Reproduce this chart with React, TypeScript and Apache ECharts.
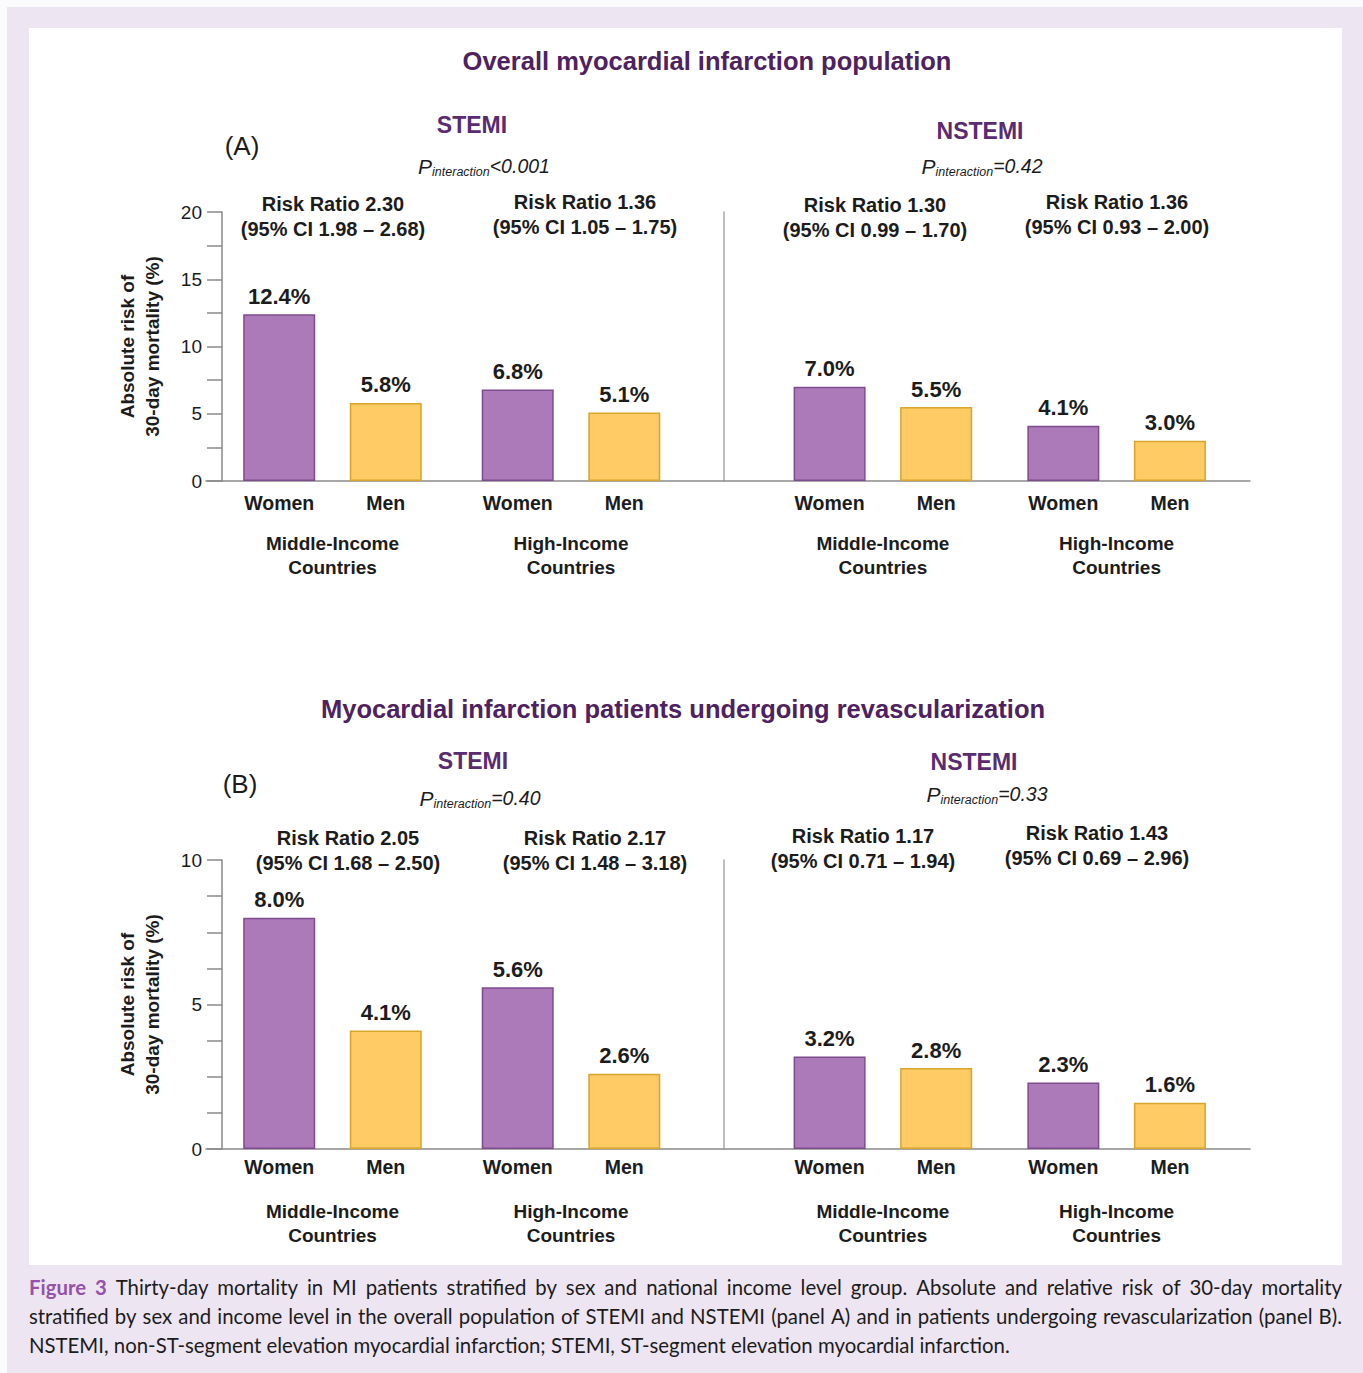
import React, { useEffect, useRef } from "react";
import * as echarts from "echarts";

// ---------------- DATA ----------------
const incomeGroups = ["Middle-Income\nCountries", "High-Income\nCountries"];
const sexes = ["Women", "Men"];
const panelTitles = [
  "Overall myocardial infarction population",
  "Myocardial infarction patients undergoing revascularization",
];
const panelLetters = ["(A)", "(B)"];
const subgroupNames = ["STEMI", "NSTEMI"];
const yAxisTitle = "Absolute risk of\n30-day mortality (%)";

// Panel A – overall population (30-day mortality, %)
const stemiWomenA = [12.4, 6.8];
const stemiMenA = [5.8, 5.1];
const nstemiWomenA = [7.0, 4.1];
const nstemiMenA = [5.5, 3.0];
// Panel B – patients undergoing revascularization
const stemiWomenB = [8.0, 5.6];
const stemiMenB = [4.1, 2.6];
const nstemiWomenB = [3.2, 2.3];
const nstemiMenB = [2.8, 1.6];

const pInteractionA = ["<0.001", "=0.42"];
const pInteractionB = ["=0.40", "=0.33"];

const riskStemiA = ["Risk Ratio 2.30\n(95% CI 1.98 – 2.68)", "Risk Ratio 1.36\n(95% CI 1.05 – 1.75)"];
const riskNstemiA = ["Risk Ratio 1.30\n(95% CI 0.99 – 1.70)", "Risk Ratio 1.36\n(95% CI 0.93 – 2.00)"];
const riskStemiB = ["Risk Ratio 2.05\n(95% CI 1.68 – 2.50)", "Risk Ratio 2.17\n(95% CI 1.48 – 3.18)"];
const riskNstemiB = ["Risk Ratio 1.17\n(95% CI 0.71 – 1.94)", "Risk Ratio 1.43\n(95% CI 0.69 – 2.96)"];

const yMaxA = 20;
const yStepA = 2.5;
const yLabelsA = [0, 5, 10, 15, 20];
const yMaxB = 10;
const yStepB = 1.25;
const yLabelsB = [0, 5, 10];

const captionLines = [
  "Figure 3 Thirty-day mortality in MI patients stratified by sex and national income level group. Absolute and relative risk of 30-day mortality",
  "stratified by sex and income level in the overall population of STEMI and NSTEMI (panel A) and in patients undergoing revascularization (panel B).",
  "NSTEMI, non-ST-segment elevation myocardial infarction; STEMI, ST-segment elevation myocardial infarction.",
];
const captionBoldWords = 2;

// ---------------- STYLE / LAYOUT ----------------
const W = 1363;
const H = 1373;
const FONT = "'Liberation Sans', Arial, Helvetica, sans-serif";
const CAP_FONT = "Lato";
const PURPLE = "#AD7AB9";
const PURPLE_EDGE = "#7E4C8E";
const YELLOW = "#FECB65";
const YELLOW_EDGE = "#D8A52C";
const TITLE_COLOR = "#4E2161";
const SUB_COLOR = "#5A2B70";
const TXT = "#1c1c1c";
const AXIS = "#8a8a8a";
const SEP = "#a8a8a8";

const PANELS = [
  { top: 212, height: 269, max: yMaxA, step: yStepA, labels: yLabelsA, titleY: 61, subY: [125, 131], pY: [166, 166], letterY: 146,
    letterX: 242, subX: [472, 980], pX: [484, 982], sexDist: 12,
    risk: [riskStemiA, riskNstemiA], riskPos: [[[333, 216.5], [585, 214.5]], [[875, 217.5], [1117, 214]]],
    women: [stemiWomenA, nstemiWomenA], men: [stemiMenA, nstemiMenA], pv: pInteractionA, titleX: 707 },
  { top: 860, height: 289, max: yMaxB, step: yStepB, labels: yLabelsB, titleY: 709, subY: [761, 762], pY: [798, 794], letterY: 784,
    letterX: 240, subX: [473, 974], pX: [480, 987], sexDist: 8,
    risk: [riskStemiB, riskNstemiB], riskPos: [[[348, 850], [595, 850]], [[863, 848], [1097, 845]]],
    women: [stemiWomenB, nstemiWomenB], men: [stemiMenB, nstemiMenB], pv: pInteractionB, titleX: 683 },
];
const SUBS = [
  { left: 213.25, width: 477 },
  { left: 766, width: 467.5 },
];
const AXIS_X = 222;
const SEP_X = 724;

function buildCaption(): any[] {
  const canvas = document.createElement("canvas");
  const ctx = canvas.getContext("2d")!;
  const measure = (t: string, bold: boolean, fs: number) => {
    ctx.font = `${bold ? "bold " : ""}${fs}px ${CAP_FONT}`;
    return ctx.measureText(t).width;
  };
  const x0 = 29;
  const x1 = 1342;
  const lastWidth = 981;
  const fs = Math.min(21, Math.max(16, (20 * lastWidth) / measure(captionLines[2], false, 20)));
  const ys = [1287, 1316, 1345];
  const els: any[] = [];
  captionLines.forEach((line, li) => {
    const words = line.split(" ");
    if (li === captionLines.length - 1) {
      els.push({ type: "text", x: x0, y: ys[li], style: { text: line, font: `${fs}px ${CAP_FONT}`, fill: TXT, align: "left", verticalAlign: "middle" } });
      return;
    }
    const bolds = words.map((_, i) => li === 0 && i < captionBoldWords);
    const widths = words.map((w, i) => measure(w, bolds[i], fs));
    const total = widths.reduce((a, b) => a + b, 0);
    const gap = (x1 - x0 - total) / (words.length - 1);
    let x = x0;
    words.forEach((w, i) => {
      els.push({
        type: "text", x, y: ys[li],
        style: { text: w, font: `${bolds[i] ? "bold " : ""}${fs}px ${CAP_FONT}`, fill: bolds[i] ? "#9651A9" : TXT, align: "left", verticalAlign: "middle" },
      });
      x += widths[i] + gap;
    });
  });
  return els;
}

function buildOption(): any {
  const grid: any[] = [];
  const xAxis: any[] = [];
  const yAxis: any[] = [];
  const series: any[] = [];
  const graphic: any[] = [
    { type: "rect", z: -10, shape: { x: 0, y: 0, width: W, height: H }, style: { fill: "#fbfafc" } },
    { type: "rect", z: -9, shape: { x: 7, y: 7, width: W - 7, height: H - 7 }, style: { fill: "#EDE5F1" } },
    { type: "rect", z: -8, shape: { x: 29, y: 28, width: 1313, height: 1237 }, style: { fill: "#ffffff" } },
  ];

  PANELS.forEach((P, pi) => {
    SUBS.forEach((S, si) => {
      const gi = grid.length;
      grid.push({ left: S.left, top: P.top, width: S.width, height: P.height, containLabel: false });
      xAxis.push({
        type: "category", gridIndex: gi, data: incomeGroups,
        axisLine: { show: false }, axisTick: { show: false },
        axisLabel: { margin: 50, fontSize: 19, fontWeight: "bold", lineHeight: 24, color: TXT, fontFamily: FONT },
      });
      const first = si === 0;
      yAxis.push({
        type: "value", gridIndex: gi, min: 0, max: P.max, interval: P.step,
        offset: first ? S.left - AXIS_X : S.left - SEP_X,
        axisLine: { show: true, onZero: false, lineStyle: { color: first ? AXIS : SEP, width: 1.5 } },
        axisTick: { show: first, length: 15, lineStyle: { color: AXIS, width: 1.5 } },
        axisLabel: {
          show: first, margin: 20, fontSize: 19, color: TXT, fontFamily: FONT,
          formatter: (v: number) => (P.labels.includes(v) ? String(v) : ""),
        },
        splitLine: { show: false },
        name: first ? yAxisTitle : "",
        nameLocation: "middle", nameRotate: 90, nameGap: 57,
        nameTextStyle: { fontSize: 19, fontWeight: "bold", lineHeight: 25, color: TXT, fontFamily: FONT, align: "center" },
      });
      const groups = [
        { vals: P.women[si], name: sexes[0], color: PURPLE, edge: PURPLE_EDGE },
        { vals: P.men[si], name: sexes[1], color: YELLOW, edge: YELLOW_EDGE },
      ];
      groups.forEach((g, k) => {
        const stack = `s${gi}_${k}`;
        // carrier of the "Women"/"Men" label under each bar
        series.push({
          type: "bar", name: g.name, xAxisIndex: gi, yAxisIndex: gi, stack,
          data: g.vals.map(() => 0), barWidth: 72, barGap: "48%", silent: true,
          itemStyle: { color: "rgba(0,0,0,0)" },
          label: { show: true, position: "bottom", distance: P.sexDist, formatter: () => g.name, fontSize: 19.5, fontWeight: "bold", color: TXT, fontFamily: FONT },
        });
        series.push({
          type: "bar", name: g.name, xAxisIndex: gi, yAxisIndex: gi, stack,
          data: g.vals, barWidth: 72, barGap: "48%",
          itemStyle: { color: g.color, borderColor: g.edge, borderWidth: 1.5 },
          label: {
            show: true, position: "top", distance: 7, fontSize: 22, fontWeight: "bold", color: TXT, fontFamily: FONT,
            formatter: (p: any) => `${Number(p.value).toFixed(1)}%`,
          },
        });
      });

      // risk ratio annotations
      P.risk[si].forEach((t, ci) => {
        const [x, y] = P.riskPos[si][ci];
        graphic.push({ type: "text", x, y, style: { text: t, fontSize: 20, fontWeight: "bold", fontFamily: FONT, fill: TXT, align: "center", verticalAlign: "middle", lineHeight: 25 } });
      });
      // subgroup header
      graphic.push({ type: "text", x: P.subX[si], y: P.subY[si], style: { text: subgroupNames[si], fontSize: 23, fontWeight: "bold", fontFamily: FONT, fill: SUB_COLOR, align: "center", verticalAlign: "middle" } });
      // P interaction
      graphic.push({
        type: "text", x: P.pX[si], y: P.pY[si],
        style: {
          text: `{p|P}{s|interaction}{v|${P.pv[si]}}`, align: "center", verticalAlign: "middle",
          rich: {
            p: { fontSize: 21, fontStyle: "italic", fontFamily: FONT, fill: TXT, lineHeight: 24 },
            s: { fontSize: 12.5, fontStyle: "italic", fontFamily: FONT, fill: TXT, lineHeight: 13, verticalAlign: "bottom" },
            v: { fontSize: 19.5, fontStyle: "italic", fontFamily: FONT, fill: TXT, lineHeight: 24 },
          },
        },
      });
    });

    // baseline frame grid spanning the whole panel
    const fi = grid.length;
    grid.push({ left: 206, top: P.top, width: 1044, height: P.height });
    xAxis.push({
      type: "value", gridIndex: fi, min: 0, max: 1,
      axisLine: { show: true, onZero: false, lineStyle: { color: AXIS, width: 1.5 } },
      axisTick: { show: false }, axisLabel: { show: false }, splitLine: { show: false },
    });
    yAxis.push({ type: "value", gridIndex: fi, min: 0, max: 1, show: false });

    graphic.push({ type: "text", x: P.titleX, y: P.titleY, style: { text: panelTitles[pi], fontSize: 25.5, fontWeight: "bold", fontFamily: FONT, fill: TITLE_COLOR, align: "center", verticalAlign: "middle" } });
    graphic.push({ type: "text", x: P.letterX, y: P.letterY, style: { text: panelLetters[pi], fontSize: 26, fontFamily: FONT, fill: TXT, align: "center", verticalAlign: "middle" } });
  });

  graphic.push(...buildCaption());

  return { animation: false, grid, xAxis, yAxis, series, graphic, tooltip: { show: false } };
}

export default function App() {
  const ref = useRef<HTMLDivElement>(null);
  useEffect(() => {
    document.body.style.margin = "0";
    if (!ref.current) return;
    const chart = echarts.init(ref.current, undefined, { renderer: "svg" });
    chart.setOption(buildOption());
    return () => chart.dispose();
  }, []);
  return <div ref={ref} style={{ width: W, height: H }} />;
}
